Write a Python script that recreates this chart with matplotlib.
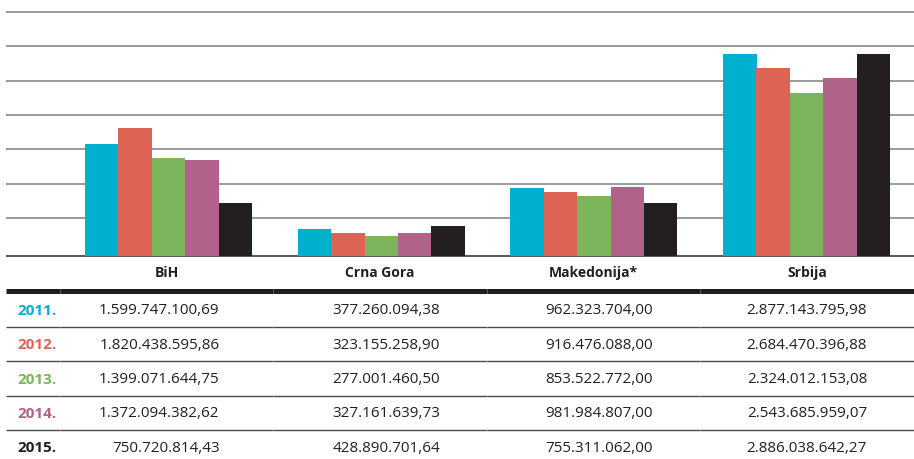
import numpy as np
import matplotlib.pyplot as plt
from matplotlib.lines import Line2D

plt.rcParams['font.family'] = ['Open Sans', 'DejaVu Sans']

# data
countries = ['BiH', 'Crna Gora', 'Makedonija*', 'Srbija']
years = ['2011.', '2012.', '2013.', '2014.', '2015.']
v2011 = [1599747100.69, 377260094.38, 962323704.00, 2877143795.98]
v2012 = [1820438595.86, 323155258.90, 916476088.00, 2684470396.88]
v2013 = [1399071644.75, 277001460.50, 853522772.00, 2324012153.08]
v2014 = [1372094382.62, 327161639.73, 981984807.00, 2543685959.07]
v2015 = [750720814.43, 428890701.64, 755311062.00, 2886038642.27]
series = [v2011, v2012, v2013, v2014, v2015]
colors = ['#00b1cd', '#dd6455', '#7ab45b', '#b0628b', '#231f20']


def fmt(v):
    # 1.234.567,89 style
    s = f'{v:,.2f}'
    return s.replace(',', ' ').replace('.', ',').replace(' ', '.')


W, H = 914, 459
fig = plt.figure(figsize=(W / 100, H / 100), dpi=100)

# full-figure axes in pixel units for the table part
tab = fig.add_axes([0, 0, 1, 1])
tab.set_xlim(0, W)
tab.set_ylim(H, 0)
tab.axis('off')

# bar axes: left 6px, baseline at 255.7px
base = 255.7
ax = fig.add_axes([6 / W, 1 - base / H, (W - 6) / W, base / H])
step = 212.7
x0 = -(168.5 - 6) / step
ax.set_xlim(x0, x0 + (W - 6) / step)
ax.set_ylim(0, base / 70 * 1e9)
bw = 33.4 / step
x = np.arange(len(countries))
for i, (vals, c) in enumerate(zip(series, colors)):
    ax.bar(x + (i - 2) * bw, vals, width=bw, color=c, zorder=3, linewidth=0)

ax.set_yticks(0.54e9 + 0.49e9 * np.arange(7))
ax.grid(axis='y', color='#9a9a9a', linewidth=1.4, zorder=0)
ax.tick_params(left=False, bottom=False, labelleft=False, labelbottom=False)
for s in ax.spines.values():
    s.set_visible(False)
ax.patch.set_alpha(0)

# table lines, split at column separators
seps = [60, 273, 487, 700]
edges = [6] + seps + [W]


def hline(y, lw, color):
    for a, b in zip(edges[:-1], edges[1:]):
        tab.add_line(Line2D([a + 0.3 if a in seps else a, b - 0.3 if b in seps else b],
                            [y, y], color=color, linewidth=lw, solid_capstyle='butt'))


hline(base + 0.5, 1.2, '#3a3a3a')
hline(290.5, 3.6, '#231f20')
for k in range(4):
    hline(326.5 + 34.5 * k, 1.0, '#4a4a4a')

# column headers
centers = [166.5, 380, 593, 807]
for c, name in zip(centers, countries):
    tab.text(c, 273, name, ha='center', va='center', fontsize=10,
             fontweight='bold', color='#231f20')

# rows
right = [219.5, 440, 653, 867]
for k, (yr, vals, c) in enumerate(zip(years, series, colors)):
    y = 311 + 34.25 * k
    tab.text(17, y, yr, ha='left', va='center', fontsize=11,
             fontweight='bold', color=c)
    for r, v in zip(right, vals):
        tab.text(r, y, fmt(v), ha='right', va='center', fontsize=11,
                 color='#231f20')

fig.savefig('out.png', dpi=100)
